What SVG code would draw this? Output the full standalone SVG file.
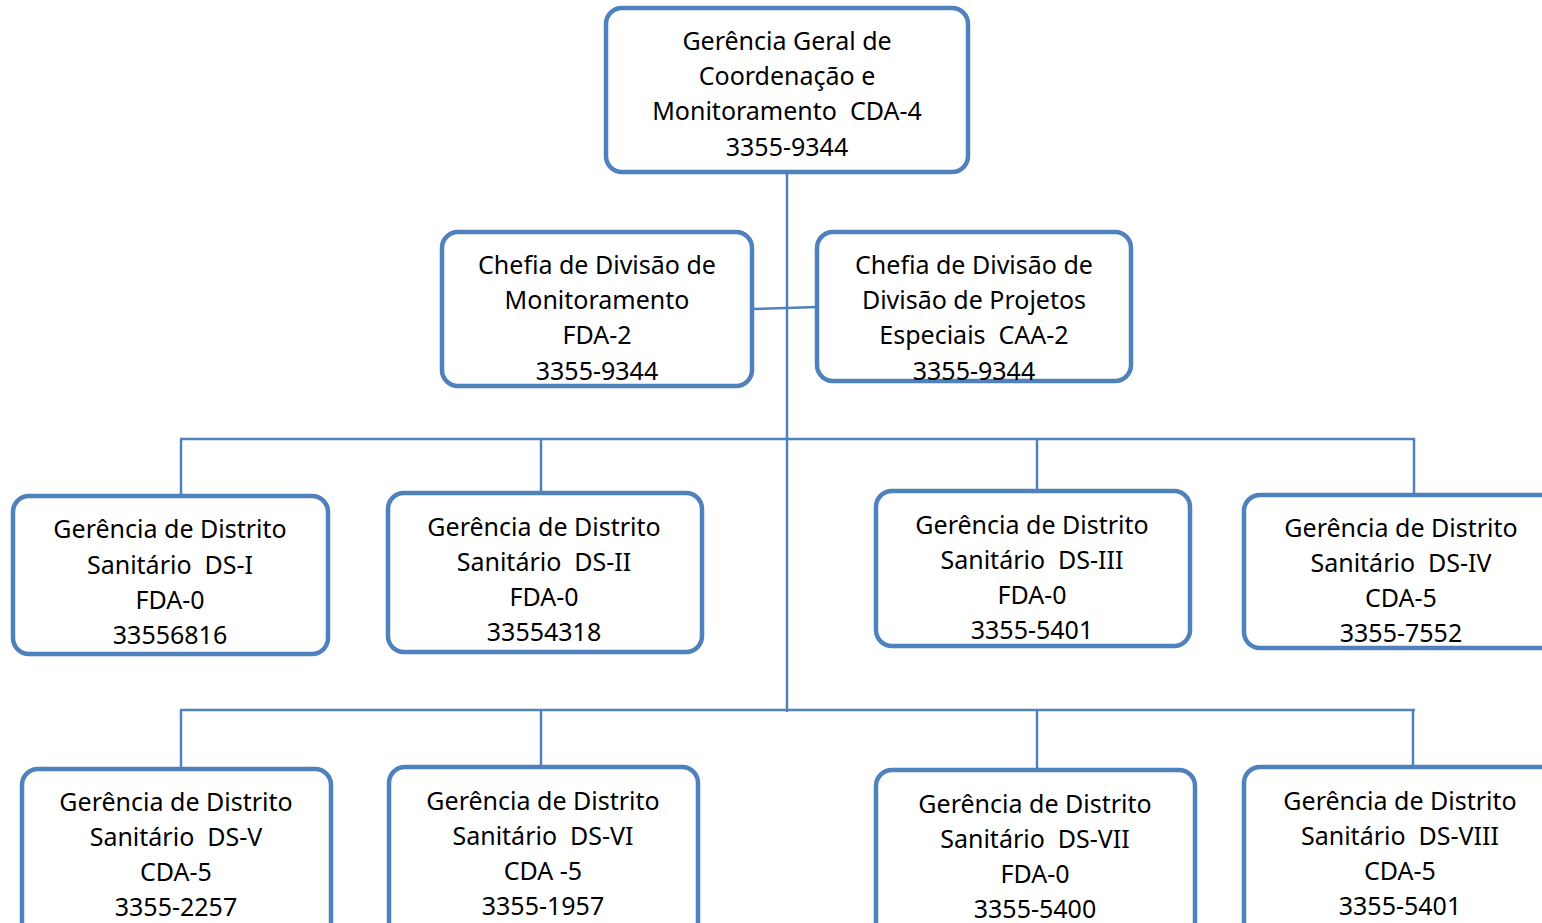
<svg xmlns="http://www.w3.org/2000/svg" width="1542" height="923" viewBox="0 0 1542 923">
<style>
.box{fill:#fff;stroke:#4f81bd;stroke-width:4.5}
.ln{stroke:#4f81bd;stroke-width:2.5;fill:none}
text{font-family:"Noto Sans","Open Sans",sans-serif;font-size:25px;fill:#000;text-anchor:middle;white-space:pre}
</style>
<rect width="1542" height="923" fill="#fff"/>
<g id="connectors">
<line class="ln" x1="787" y1="172" x2="787" y2="712"/>
<line class="ln" x1="752" y1="309" x2="817" y2="307"/>
<line class="ln" x1="180" y1="439" x2="1415" y2="439"/>
<line class="ln" x1="181" y1="439" x2="181" y2="496"/>
<line class="ln" x1="541" y1="439" x2="541" y2="493"/>
<line class="ln" x1="1037" y1="439" x2="1037" y2="492"/>
<line class="ln" x1="1414" y1="439" x2="1414" y2="495"/>
<line class="ln" x1="180" y1="710" x2="1415" y2="710"/>
<line class="ln" x1="181" y1="710" x2="181" y2="769"/>
<line class="ln" x1="541" y1="710" x2="541" y2="767"/>
<line class="ln" x1="1037" y1="710" x2="1037" y2="770"/>
<line class="ln" x1="1413" y1="710" x2="1413" y2="767"/>
</g>
<g id="n0"><rect class="box" x="606" y="8" width="362" height="164" rx="16"/>
<text x="787" y="50">Gerência Geral de</text><text x="787" y="85">Coordenação e</text><text x="787" y="120" xml:space="preserve">Monitoramento  CDA-4</text><text x="787" y="156">3355-9344</text></g>
<g id="n1"><rect class="box" x="442" y="232" width="310" height="154" rx="16"/>
<text x="597" y="274">Chefia de Divisão de</text><text x="597" y="309">Monitoramento</text><text x="597" y="344">FDA-2</text><text x="597" y="380">3355-9344</text></g>
<g id="n2"><rect class="box" x="817" y="232" width="314" height="149" rx="16"/>
<text x="974" y="274">Chefia de Divisão de</text><text x="974" y="309">Divisão de Projetos</text><text x="974" y="344" xml:space="preserve">Especiais  CAA-2</text><text x="974" y="380">3355-9344</text></g>
<g id="n3"><rect class="box" x="13" y="496" width="315" height="158" rx="16"/>
<text x="170" y="538">Gerência de Distrito</text><text x="170" y="574" xml:space="preserve">Sanitário  DS-I</text><text x="170" y="609">FDA-0</text><text x="170" y="644">33556816</text></g>
<g id="n4"><rect class="box" x="388" y="493" width="314" height="159" rx="16"/>
<text x="544" y="536">Gerência de Distrito</text><text x="544" y="571" xml:space="preserve">Sanitário  DS-II</text><text x="544" y="606">FDA-0</text><text x="544" y="641">33554318</text></g>
<g id="n5"><rect class="box" x="876" y="491" width="314" height="155" rx="16"/>
<text x="1032" y="534">Gerência de Distrito</text><text x="1032" y="569" xml:space="preserve">Sanitário  DS-III</text><text x="1032" y="604">FDA-0</text><text x="1032" y="639">3355-5401</text></g>
<g id="n6"><rect class="box" x="1244" y="495" width="316" height="153" rx="16"/>
<text x="1401" y="537">Gerência de Distrito</text><text x="1401" y="572" xml:space="preserve">Sanitário  DS-IV</text><text x="1401" y="607">CDA-5</text><text x="1401" y="642">3355-7552</text></g>
<g id="n7"><rect class="box" x="22" y="769" width="309" height="170" rx="16"/>
<text x="176" y="811">Gerência de Distrito</text><text x="176" y="846" xml:space="preserve">Sanitário  DS-V</text><text x="176" y="881">CDA-5</text><text x="176" y="916">3355-2257</text></g>
<g id="n8"><rect class="box" x="389" y="767" width="309" height="172" rx="16"/>
<text x="543" y="810">Gerência de Distrito</text><text x="543" y="845" xml:space="preserve">Sanitário  DS-VI</text><text x="543" y="880">CDA -5</text><text x="543" y="915">3355-1957</text></g>
<g id="n9"><rect class="box" x="876" y="770" width="319" height="169" rx="16"/>
<text x="1035" y="813">Gerência de Distrito</text><text x="1035" y="848" xml:space="preserve">Sanitário  DS-VII</text><text x="1035" y="883">FDA-0</text><text x="1035" y="918">3355-5400</text></g>
<g id="n10"><rect class="box" x="1244" y="767" width="316" height="172" rx="16"/>
<text x="1400" y="810">Gerência de Distrito</text><text x="1400" y="845" xml:space="preserve">Sanitário  DS-VIII</text><text x="1400" y="880">CDA-5</text><text x="1400" y="915">3355-5401</text></g>
</svg>
